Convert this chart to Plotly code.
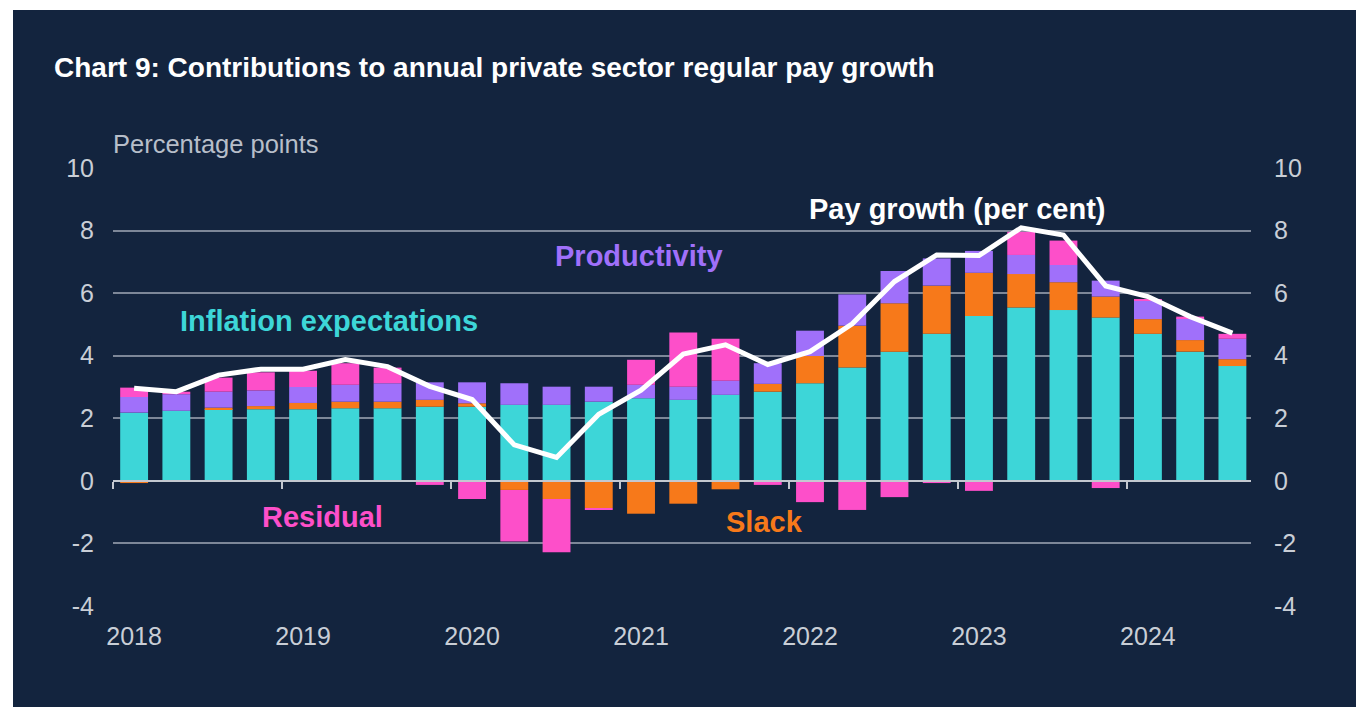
import plotly.graph_objects as go

# Quarterly observations, 2018 Q1 to 2024 Q3
quarters = [
    "2018 Q1", "2018 Q2", "2018 Q3", "2018 Q4",
    "2019 Q1", "2019 Q2", "2019 Q3", "2019 Q4",
    "2020 Q1", "2020 Q2", "2020 Q3", "2020 Q4",
    "2021 Q1", "2021 Q2", "2021 Q3", "2021 Q4",
    "2022 Q1", "2022 Q2", "2022 Q3", "2022 Q4",
    "2023 Q1", "2023 Q2", "2023 Q3", "2023 Q4",
    "2024 Q1", "2024 Q2", "2024 Q3",
]
year_labels = ["2018", "2019", "2020", "2021", "2022", "2023", "2024"]
year_starts = ["2018 Q1", "2019 Q1", "2020 Q1", "2021 Q1", "2022 Q1", "2023 Q1", "2024 Q1"]

# Contributions, percentage points
inflation_expectations = [
    2.18, 2.24, 2.29, 2.29, 2.29, 2.32, 2.32, 2.37, 2.37, 2.43, 2.43, 2.53, 2.64, 2.59,
    2.75, 2.85, 3.12, 3.62, 4.13, 4.70, 5.27, 5.54, 5.46, 5.22, 4.70, 4.13, 3.67,
]
slack = [
    -0.07, 0.00, 0.05, 0.10, 0.20, 0.21, 0.21, 0.22, 0.11, -0.29, -0.58, -0.87, -1.05, -0.73,
    -0.27, 0.25, 0.87, 1.34, 1.55, 1.54, 1.38, 1.07, 0.89, 0.67, 0.47, 0.37, 0.22,
]
productivity = [
    0.50, 0.53, 0.51, 0.50, 0.51, 0.54, 0.59, 0.56, 0.67, 0.69, 0.58, 0.48, 0.43, 0.42,
    0.45, 0.66, 0.81, 1.00, 1.03, 0.87, 0.70, 0.61, 0.55, 0.51, 0.61, 0.70, 0.65,
]
residual = [
    0.30, 0.08, 0.45, 0.58, 0.52, 0.69, 0.50, -0.13, -0.58, -1.65, -1.70, -0.03, 0.80, 1.73,
    1.34, -0.13, -0.68, -0.93, -0.52, -0.07, -0.32, 0.74, 0.78, -0.23, 0.03, 0.05, 0.16,
]
# Annual private sector regular pay growth, per cent
pay_growth = [
    2.96, 2.85, 3.38, 3.57, 3.57, 3.88, 3.65, 3.02, 2.60, 1.15, 0.75, 2.13, 2.90, 4.05,
    4.35, 3.72, 4.13, 5.02, 6.37, 7.22, 7.20, 8.09, 7.86, 6.23, 5.89, 5.25, 4.72,
]

# Value axis ticks, with plain hyphen minus signs
ytick_vals = [-4, -2, 0, 2, 4, 6, 8, 10]
ytick_text = ["-4", "-2", "0", "2", "4", "6", "8", "10"]

NAVY = "#13243e"
TEAL = "#3dd6d8"
PURPLE = "#a070fa"
ORANGE = "#f7791a"
PINK = "#fd4fc9"
GRID = "#7d8798"
AXIS = "#c3c8d0"
TICK_TEXT = "#c9ced6"
FONT = "Liberation Sans, Arial, sans-serif"

Y_RANGE = [-4, 10]
X_RANGE = [-0.5, 26.44]

fig = go.Figure()

for name, vals, col in [
    ("Inflation expectations", inflation_expectations, TEAL),
    ("Slack", slack, ORANGE),
    ("Productivity", productivity, PURPLE),
    ("Residual", residual, PINK),
]:
    fig.add_trace(go.Bar(
        x=quarters, y=vals, name=name,
        marker=dict(color=col, line=dict(width=0)),
        showlegend=False,
    ))

fig.add_trace(go.Scatter(
    x=quarters, y=pay_growth, name="Pay growth (per cent)",
    mode="lines", line=dict(color="white", width=5),
    showlegend=False,
))

# Helper traces so the zero-line axis and the right-hand axis get drawn
fig.add_trace(go.Scatter(x=[X_RANGE[0]], y=[0], xaxis="x2", yaxis="y",
                         mode="markers", marker=dict(opacity=0),
                         hoverinfo="skip", showlegend=False))
fig.add_trace(go.Scatter(x=[quarters[0]], y=[0], xaxis="x", yaxis="y2",
                         mode="markers", marker=dict(opacity=0),
                         hoverinfo="skip", showlegend=False))

tick_font = dict(family=FONT, size=25, color=TICK_TEXT)

W, H = 1356, 707
L, R, T, B = 113, 105, 168, 101
pw, ph = W - L - R, H - T - B


def px_x(px):
    return (px - L) / pw


def px_y(py):
    return (H - B - py) / ph


boundaries = [i - 0.5 for i in range(0, len(quarters), 4)]

fig.update_layout(
    width=W, height=H,
    margin=dict(l=L, r=R, t=T, b=B),
    paper_bgcolor=NAVY, plot_bgcolor=NAVY,
    barmode="relative", bargap=0.34,
    font=dict(family=FONT),
    xaxis=dict(
        type="category", range=X_RANGE,
        tickvals=year_starts, ticktext=year_labels,
        tickfont=tick_font, ticks="", showgrid=False, showline=False,
        zeroline=False, ticklabelstandoff=13,
    ),
    xaxis2=dict(
        overlaying="x", anchor="free",
        position=(0 - Y_RANGE[0]) / (Y_RANGE[1] - Y_RANGE[0]),
        range=X_RANGE, showgrid=False, zeroline=False,
        showline=True, linecolor=AXIS, linewidth=2,
        ticks="outside", tickvals=boundaries, ticklen=7, tickwidth=2,
        tickcolor=AXIS, showticklabels=False,
    ),
    yaxis=dict(
        range=Y_RANGE, tickvals=ytick_vals, ticktext=ytick_text, tickfont=tick_font,
        showgrid=True, gridcolor=GRID, gridwidth=1.5,
        zeroline=False, showline=False, ticks="",
        ticklabelstandoff=18,
    ),
    yaxis2=dict(
        overlaying="y", side="right", range=Y_RANGE,
        tickvals=ytick_vals, ticktext=ytick_text, tickfont=tick_font,
        showgrid=False, zeroline=False, showline=False, ticks="",
        ticklabelstandoff=22,
    ),
)

label_size = 29
annotations = [
    dict(text="<b>Chart 9: Contributions to annual private sector regular pay growth</b>",
         xref="paper", yref="paper", x=px_x(52), y=px_y(68),
         xanchor="left", yanchor="middle", showarrow=False,
         font=dict(family=FONT, size=28, color="white")),
    dict(text="Percentage points", xref="paper", yref="paper",
         x=px_x(111), y=px_y(144), xanchor="left", yanchor="middle",
         showarrow=False, font=dict(family=FONT, size=25.5, color="#b7bec9")),
    dict(text="<b>Inflation expectations</b>", x=4.62, y=5.11,
         showarrow=False, font=dict(family=FONT, size=label_size, color=TEAL)),
    dict(text="<b>Productivity</b>", x=11.95, y=7.19,
         showarrow=False, font=dict(family=FONT, size=label_size, color=PURPLE)),
    dict(text="<b>Residual</b>", x=4.47, y=-1.15,
         showarrow=False, font=dict(family=FONT, size=label_size, color=PINK)),
    dict(text="<b>Slack</b>", x=14.93, y=-1.31,
         showarrow=False, font=dict(family=FONT, size=label_size, color=ORANGE)),
    dict(text="<b>Pay growth (per cent)</b>", x=19.48, y=8.69,
         showarrow=False, font=dict(family=FONT, size=label_size, color="white")),
]
fig.update_layout(annotations=annotations)

# White page edge around the dark panel
fig.update_layout(shapes=[
    dict(type="rect", xref="paper", yref="paper", layer="below",
         x0=px_x(0), x1=px_x(13), y0=px_y(H), y1=px_y(0),
         fillcolor="white", line=dict(width=0)),
    dict(type="rect", xref="paper", yref="paper", layer="below",
         x0=px_x(0), x1=px_x(W), y0=px_y(10), y1=px_y(0),
         fillcolor="white", line=dict(width=0)),
])

fig.write_html("out.html", config=dict(displayModeBar=False))
